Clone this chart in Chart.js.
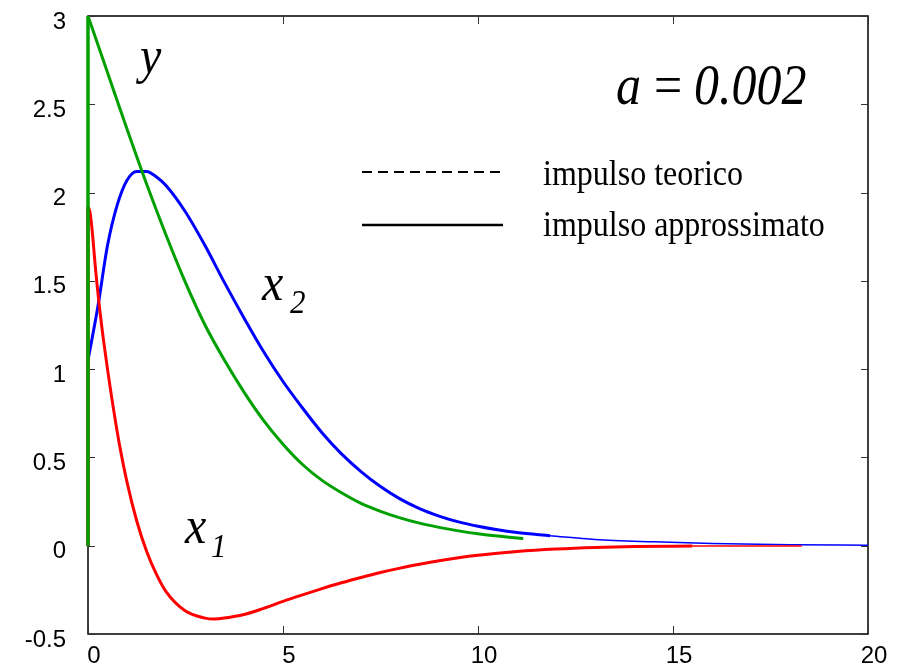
<!DOCTYPE html>
<html>
<head>
<meta charset="utf-8">
<script src="https://cdn.jsdelivr.net/npm/chart.js@4/dist/chart.umd.min.js"></script>
<style>
  body { margin: 0; background: #fff; }
</style>
</head>
<body>
<canvas id="impulseChart" width="903" height="669"></canvas>
<script>
// tick values
const xTicks = [0, 5, 10, 15, 20];
const yTicks = [-0.5, 0, 0.5, 1, 1.5, 2, 2.5, 3];

// y (green)
const tY = [0, 0.5, 1, 1.5, 2, 2.5, 3, 3.5, 4, 4.5, 5, 5.5, 6, 6.5, 7, 7.5, 8, 8.5, 9, 9.5, 10, 10.5, 11.16];
const yVals = [3, 2.68, 2.36, 2.05, 1.76, 1.49, 1.25, 1.05, 0.87, 0.71, 0.575, 0.46, 0.37, 0.3, 0.24, 0.195, 0.158, 0.128, 0.104, 0.084, 0.068, 0.055, 0.041];

// x1 (red)
const tX1 = [0, 0.05, 0.1, 0.2, 0.3, 0.4, 0.5, 0.6, 0.7, 0.8, 1, 1.25, 1.5, 1.75, 2, 2.5, 3, 3.25, 3.5, 4, 4.5, 5, 5.5, 6, 6.5, 7, 7.5, 8, 8.5, 9, 9.5, 10, 11, 12, 13, 14, 15.5];
const x1Vals = [1.92, 1.89, 1.8, 1.55, 1.34, 1.16, 1.0, 0.85, 0.71, 0.58, 0.36, 0.14, -0.03, -0.16, -0.26, -0.37, -0.41, -0.415, -0.41, -0.39, -0.355, -0.315, -0.278, -0.243, -0.21, -0.18, -0.152, -0.127, -0.105, -0.085, -0.068, -0.054, -0.033, -0.019, -0.01, -0.005, -0.002];

// x2 (blue)
const tX2 = [0, 0.25, 0.5, 0.75, 1, 1.25, 1.5, 1.75, 2, 2.5, 3, 3.5, 4, 4.5, 5, 5.5, 6, 6.5, 7, 7.5, 8, 8.5, 9, 9.5, 10, 10.5, 11, 11.85];
const x2Vals = [1.05, 1.35, 1.7, 1.93, 2.07, 2.12, 2.12, 2.09, 2.04, 1.89, 1.7, 1.49, 1.29, 1.1, 0.93, 0.78, 0.64, 0.52, 0.42, 0.335, 0.265, 0.21, 0.168, 0.135, 0.11, 0.09, 0.075, 0.057];

// thin tails
const tX2Tail = [11.85, 13, 14.5, 16, 18, 20];
const x2Tail = [0.057, 0.035, 0.022, 0.013, 0.006, 0.003];
const tX1Tail = [15.5, 16.5, 18.3];
const x1Tail = [-0.002, -0.001, -0.001];

// jumps at t = 0
const tJump = [0, 0];
const yJump = [0, 3];
const x1Jump = [0, 1.92];
const x2Jump = [0, 1.05];

const pts = (t, v) => t.map((x, i) => ({ x: x, y: v[i] }));

const serif = '"Liberation Serif", "DejaVu Serif", serif';

function stretchText(ctx, txt, x, y, font, sy) {
  ctx.save();
  ctx.font = font;
  ctx.fillStyle = '#000';
  ctx.textBaseline = 'alphabetic';
  ctx.textAlign = 'left';
  ctx.translate(x, y);
  ctx.scale(1, sy);
  ctx.fillText(txt, 0, 0);
  ctx.restore();
}

// box, inward ticks, legend and labels
const decor = {
  id: 'decor',
  beforeDatasetsDraw(chart) {
    const ctx = chart.ctx;
    const a = chart.chartArea;
    const xs = chart.scales.x, ys = chart.scales.y;
    ctx.save();
    ctx.strokeStyle = '#000';
    ctx.lineWidth = 1.5;
    ctx.strokeRect(a.left, a.top, a.right - a.left, a.bottom - a.top);
    ctx.lineWidth = 1;
    ctx.strokeStyle = '#333';
    ctx.beginPath();
    xTicks.forEach(v => {
      const px = Math.round(xs.getPixelForValue(v)) + 0.5;
      ctx.moveTo(px, a.bottom); ctx.lineTo(px, a.bottom - 8);
      ctx.moveTo(px, a.top); ctx.lineTo(px, a.top + 8);
    });
    yTicks.forEach(v => {
      const py = Math.round(ys.getPixelForValue(v)) + 0.5;
      ctx.moveTo(a.left, py); ctx.lineTo(a.left + 7, py);
      ctx.moveTo(a.right, py); ctx.lineTo(a.right - 7, py);
    });
    ctx.stroke();
    ctx.restore();
  },
  afterDraw(chart) {
    const ctx = chart.ctx;
    ctx.save();
    // legend lines
    ctx.strokeStyle = '#000';
    ctx.lineWidth = 2;
    ctx.setLineDash([10, 6]);
    ctx.beginPath();
    ctx.moveTo(362, 172); ctx.lineTo(503, 172);
    ctx.stroke();
    ctx.setLineDash([]);
    ctx.lineWidth = 2.7;
    ctx.beginPath();
    ctx.moveTo(362, 225); ctx.lineTo(503, 225);
    ctx.stroke();
    ctx.restore();

    stretchText(ctx, 'impulso teorico', 543, 185, '32px ' + serif, 1.1);
    stretchText(ctx, 'impulso approssimato', 543, 236, '32px ' + serif, 1.1);

    stretchText(ctx, 'a', 616, 104, 'italic 50px ' + serif, 1.15);
    stretchText(ctx, '=', 654, 104, '50px ' + serif, 1.15);
    stretchText(ctx, '0.002', 694, 104, 'italic 50px ' + serif, 1.15);

    stretchText(ctx, 'y', 140, 73, 'italic 48px ' + serif, 1.12);
    stretchText(ctx, 'x', 262, 300, 'italic 48px ' + serif, 1.12);
    stretchText(ctx, '2', 290, 313, 'italic 31px ' + serif, 1.12);
    stretchText(ctx, 'x', 185, 543, 'italic 48px ' + serif, 1.12);
    stretchText(ctx, '1', 211, 557, 'italic 31px ' + serif, 1.12);
  }
};

const line = (data, color, width, extra) => Object.assign({
  data: data,
  borderColor: color,
  backgroundColor: color,
  borderWidth: width,
  showLine: true,
  pointRadius: 0,
  fill: false,
  cubicInterpolationMode: 'monotone'
}, extra || {});

const jumpOpts = { tension: 0, cubicInterpolationMode: 'default', clip: false };

new Chart(document.getElementById('impulseChart').getContext('2d'), {
  type: 'scatter',
  data: {
    datasets: [
      line(pts(tJump, yJump), '#00a000', 3.5, jumpOpts),
      line(pts(tY, yVals), '#00a000', 3),
      line(pts(tJump, x1Jump), '#ff0000', 3.5, jumpOpts),
      line(pts(tX1, x1Vals), '#ff0000', 3),
      line(pts(tJump, x2Jump), '#0000ff', 3.5, jumpOpts),
      line(pts(tX2, x2Vals), '#0000ff', 3),
      line(pts(tX1Tail, x1Tail), '#ff0000', 1.5),
      line(pts(tX2Tail, x2Tail), '#0000ff', 1.5)
    ]
  },
  options: {
    responsive: false,
    animation: false,
    devicePixelRatio: 1,
    layout: { padding: { top: 16, right: 35, left: 0, bottom: 0 } },
    plugins: { legend: { display: false }, tooltip: { enabled: false } },
    scales: {
      x: {
        type: 'linear',
        min: 0, max: 20,
        afterBuildTicks: s => { s.ticks = xTicks.map(v => ({ value: v })); },
        afterFit: s => { s.height = 35; s.paddingLeft = 0; s.paddingRight = 0; },
        grid: { display: false, drawTicks: false },
        border: { display: false },
        ticks: {
          color: '#000',
          padding: 8,
          labelOffset: 6,
          maxRotation: 0,
          callback: v => String(v),
          font: { family: '"Liberation Sans", Arial, sans-serif', size: 24 }
        }
      },
      y: {
        type: 'linear',
        min: -0.5, max: 3,
        afterBuildTicks: s => { s.ticks = yTicks.map(v => ({ value: v })); },
        afterFit: s => { s.width = 88; s.paddingTop = 0; s.paddingBottom = 0; },
        grid: { display: false, drawTicks: false },
        border: { display: false },
        ticks: {
          color: '#000',
          padding: 22,
          labelOffset: 6,
          callback: v => String(v),
          font: { family: '"Liberation Sans", Arial, sans-serif', size: 24 }
        }
      }
    }
  },
  plugins: [decor]
});
</script>
</body>
</html>
